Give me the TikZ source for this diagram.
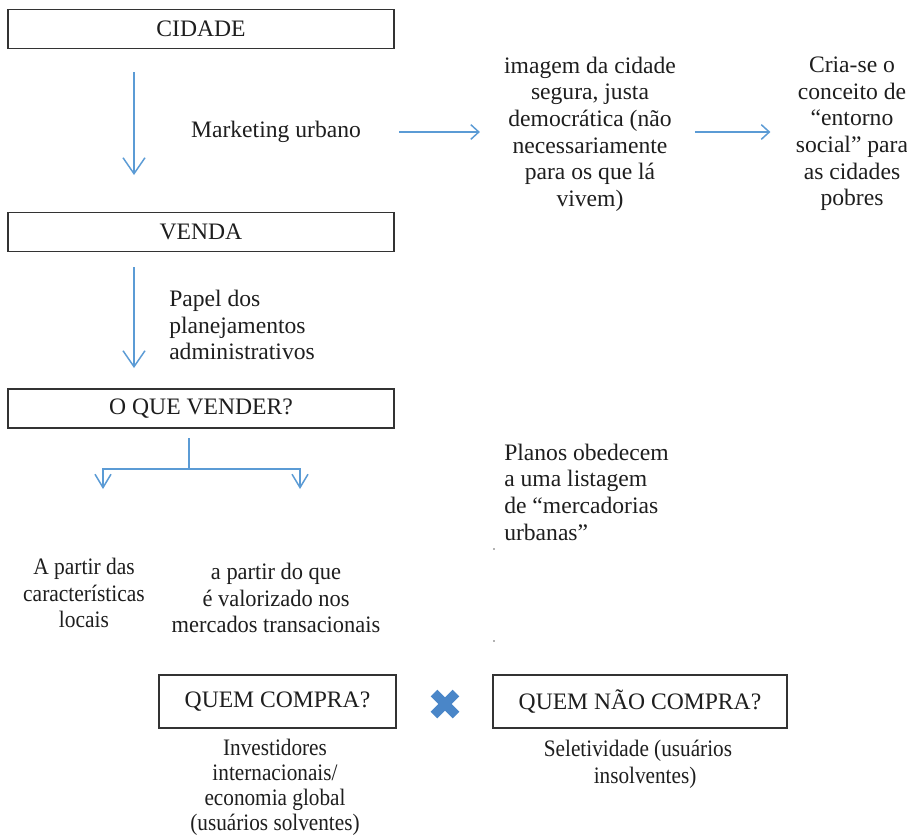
\documentclass[tikz,border=0pt]{standalone}
\usepackage{fontspec}
\setmainfont{Liberation Serif}
\newfontfamily\condA[FakeStretch=0.95]{Liberation Serif}
\newfontfamily\condL[FakeStretch=0.91]{Liberation Serif}
\newfontfamily\condB[FakeStretch=0.9]{Liberation Serif}
\usetikzlibrary{arrows.meta}
\definecolor{arrblue}{RGB}{91,155,213}
\definecolor{xblue}{RGB}{74,134,200}
\definecolor{txt}{RGB}{30,30,30}
\begin{document}
\begin{tikzpicture}[x=0.75pt, y=-0.75pt,
  every node/.style={text=txt, font=\fontsize{17.7}{20}\selectfont, inner sep=0pt},
  box/.style={draw=black!80, line width=0.9pt, minimum width=289.5pt, minimum height=29.2pt},
  arrv/.style={draw=arrblue, line width=1.1pt, -{Straight Barb[length=12pt,width=16.5pt]}},
  arrh/.style={draw=arrblue, line width=1.1pt, -{Straight Barb[length=6pt,width=11pt]}},
  arrb/.style={draw=arrblue, line width=1.1pt, -{Straight Barb[length=10pt,width=12pt]}}]
\fill[white] (0,0) rectangle (907,835);
\useasboundingbox (0,0) rectangle (907,835);

\node[box] (cidade) at (201,29) {CIDADE};
\node[box] (venda) at (201,232) {VENDA};
\node[box] (vender) at (201,408.5) {O QUE VENDER?};

\node (mkt) at (276,132) {Marketing urbano};
\node[align=center] (img) at (590,134) {imagem da cidade\\segura, justa\\democrática (não\\necessariamente\\para os que lá\\vivem)};
\node[align=center] (cria) at (852,134) {Cria-se o\\conceito de\\“entorno\\social” para\\as cidades\\pobres};
\node[anchor=west, align=left] (papel) at (169,325) {Papel dos\\planejamentos\\administrativos};
\node[align=center, font=\condL\fontsize{17.7}{20}\selectfont] (local) at (84,593) {A partir das\\características\\locais};
\node[align=center, font=\condA\fontsize{17.7}{20}\selectfont] (valor) at (276,598) {a partir do que\\é valorizado nos\\mercados transacionais};
\node[anchor=west, align=left] (planos) at (504,492) {Planos obedecem\\a uma listagem\\de “mercadorias\\urbanas”};

\node[box, minimum width=177.75pt, minimum height=39.75pt] (compra) at (277.5,701.5) {QUEM COMPRA?};
\node[box, minimum width=220.5pt, minimum height=39.75pt] (naocompra) at (640,701.5) {QUEM NÃO COMPRA?};
\node[align=center, font=\condB\fontsize{17.7}{18.75}\selectfont] (invest) at (275,787) {Investidores\\internacionais/\\economia global\\(usuários solventes)};
\node[align=center, font=\condB\fontsize{17.7}{20}\selectfont] (selet) at (638,764) {Seletividade (usuários\\\hspace*{0.6em}insolventes)};

% X mark
\coordinate (xmark) at (445,704);
\draw[xblue, line width=7pt] ([shift={(-11,-11)}]xmark) -- ([shift={(11,11)}]xmark);
\draw[xblue, line width=7pt] ([shift={(-11,11)}]xmark) -- ([shift={(11,-11)}]xmark);

% vertical arrows
\coordinate (a1s) at (134,72);
\coordinate (a1e) at (134,175);
\draw[arrv] (a1s) -- (a1e);
\coordinate (a2s) at (134,267);
\coordinate (a2e) at (134,368);
\draw[arrv] (a2s) -- (a2e);

% horizontal arrows
\draw[arrh, shorten <=28.5pt, shorten >=18pt] (mkt.east) -- (mkt.east -| img.west);
\draw[arrh, shorten <=14pt, shorten >=19pt] (img.east |- mkt.east) -- (cria.west |- mkt.east);

% branch
\coordinate (b0) at (189,438);
\coordinate (bj) at (189,469);
\coordinate (bl) at (103,489);
\coordinate (br) at (300,489);
\draw[arrb] (b0) -- (bj) -| (bl);
\draw[arrb] (bj) -| (br);

% tiny dots
\fill[black!60] (494,549) circle (0.6pt);
\fill[black!60] (494,641) circle (0.6pt);
\end{tikzpicture}
\end{document}
